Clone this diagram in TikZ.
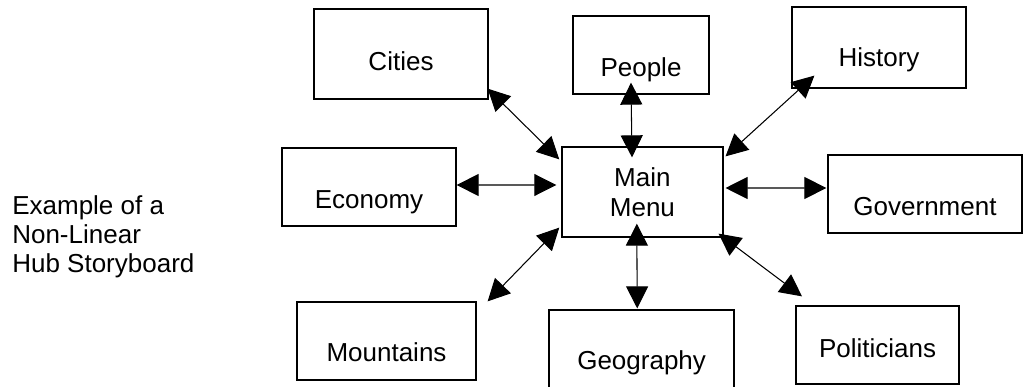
\documentclass[tikz,border=0pt]{standalone}
\usepackage{fontspec}
\setmainfont{Liberation Sans}
\usetikzlibrary{arrows.meta}

\begin{document}
\begin{tikzpicture}[scale=1]
 \tikzstyle{cadre}=[rectangle, draw, line width=0.9pt, text depth=0pt, inner sep=0pt, font=\fontsize{18.5}{21}\selectfont]
 \tikzstyle{lien}=[{Triangle[length=0.55cm, width=0.55cm]}-{Triangle[length=0.55cm, width=0.55cm]}, line width=0.75pt]
 \useasboundingbox (0, 0) rectangle (25.575, -9.675);
 %
 \node[anchor=base west, align=left, inner sep=0pt, font=\fontsize{18.5}{20.6}\selectfont] (Titre) at (0.3, -6.8) {Example of a\\Non-Linear\\Hub Storyboard};
 %
 \node[cadre, minimum width=4.025cm, minimum height=2.25cm, align=center, text depth=, font=\fontsize{18.5}{21.3}\selectfont] (Main) at (16.06, -4.8) {Main\\Menu};
 %
 \node[cadre, minimum width=4.35cm, minimum height=2.25cm, text height=0.85cm] (Cities) at (10.025, -1.35) {Cities};
 \node[cadre, minimum width=3.4cm, minimum height=1.95cm, text height=1.07cm] (People) at (16.025, -1.375) {People};
 \node[cadre, minimum width=4.35cm, minimum height=2.025cm, text height=0.97cm] (History) at (21.975, -1.1875) {History};
 \node[cadre, minimum width=4.35cm, minimum height=1.95cm, text height=1.07cm] (Economy) at (9.225, -4.675) {Economy};
 \node[cadre, minimum width=4.85cm, minimum height=1.95cm, text height=1.07cm] (Government) at (23.125, -4.85) {Government};
 \node[cadre, minimum width=4.475cm, minimum height=1.95cm, text height=1.02cm] (Mountains) at (9.6625, -8.525) {Mountains};
 \node[cadre, minimum width=4.625cm, minimum height=2.1cm, text height=0.87cm] (Geography) at (16.04, -8.8) {Geography};
 \node[cadre, minimum width=4.075cm, minimum height=1.95cm, text height=0.62cm] (Politicians) at (21.94, -8.625) {Politicians};
 %%
 \draw[lien] ([xshift=-0.025cm, yshift=0.275cm]Cities.south east)--([xshift=-0.05cm, yshift=-0.325cm]Main.north west);
 \draw[lien] ([xshift=-0.25cm, yshift=0.3cm]People.south)--([xshift=-0.26cm, yshift=-0.275cm]Main.north);
 \draw[lien] ([xshift=0.575cm, yshift=0.325cm]History.south west)--([xshift=0.05cm, yshift=-0.25cm]Main.north east);
 \draw[lien] ([yshift=0.05cm]Economy.east)--([xshift=-0.125cm, yshift=0.175cm]Main.west);
 \draw[lien] ([xshift=0.05cm, yshift=0.1cm]Main.east)--([xshift=-0.025cm, yshift=0.15cm]Government.west);
 \draw[lien] ([xshift=0.275cm]Mountains.north east)--([xshift=-0.05cm, yshift=0.25cm]Main.south west);
 \draw[lien] ([xshift=-0.14cm, yshift=0.35cm]Main.south)--([xshift=-0.11cm, yshift=0.025cm]Geography.north);
 \draw[lien] ([xshift=-0.125cm, yshift=0.1cm]Main.south east)--([xshift=-1.89cm, yshift=0.225cm]Politicians.north);
\end{tikzpicture}
\end{document}
